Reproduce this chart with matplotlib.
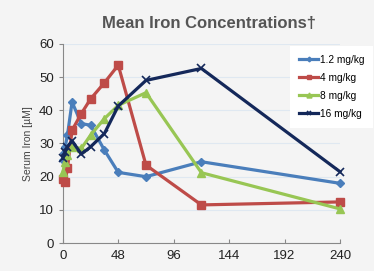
import numpy as np
import matplotlib.pyplot as plt

plt.rcParams['font.family'] = ['Liberation Sans', 'DejaVu Sans']

# hours after dose
t_low = [0, 1, 2, 4, 8, 16, 24, 36, 48, 72, 120, 240]
iron_1_2 = [25, 27, 29, 32.5, 42.5, 36, 35.5, 28, 21.3, 20, 24.5, 18]

t_red = [0, 2, 4, 8, 16, 24, 36, 48, 72, 120, 240]
iron_4 = [19.3, 18.5, 22.5, 34, 39, 43.4, 48.3, 53.6, 23.5, 11.5, 12.4]

t_green = [0, 2, 4, 8, 16, 24, 36, 48, 72, 120, 240]
iron_8 = [21.3, 24.5, 26.5, 29, 28.5, 32.5, 37.5, 41.5, 45.3, 21.2, 10.3]

t_navy = [0, 2, 4, 8, 16, 24, 36, 48, 72, 120, 240]
iron_16 = [25.5, 27.5, 29, 30.8, 26.8, 29, 33, 41.3, 49, 52.6, 21.5]

xticks = [0, 48, 96, 144, 192, 240]
yticks = [0, 10, 20, 30, 40, 50, 60]

fig = plt.figure(figsize=(3.74, 2.71), dpi=100, facecolor='#f4f4f4')
ax = fig.add_axes([0.168, 0.103, 0.741, 0.735])
ax.set_facecolor('none')

ax.plot(t_low, iron_1_2, color='#4a7ebb', lw=2.3, marker='D', ms=4, label='1.2 mg/kg', clip_on=False, zorder=3)
ax.plot(t_red, iron_4, color='#be4b48', lw=2.3, marker='s', ms=6, label='4 mg/kg', clip_on=False, zorder=3)
ax.plot(t_green, iron_8, color='#98c654', lw=2.3, marker='^', ms=6, label='8 mg/kg', clip_on=False, zorder=3)
ax.plot(t_navy, iron_16, color='#14285a', lw=2.3, marker='x', ms=6, mew=1.2, label='16 mg/kg', clip_on=False, zorder=4)

ax.set_xlim(0, 240)
ax.set_ylim(0, 60)
ax.set_xticks(xticks)
ax.set_yticks(yticks)
ax.tick_params(labelsize=9.5, colors='#222222', length=3, color='#888888')
ax.tick_params(axis='x', direction='in', pad=5)
ax.grid(axis='y', color='#dfe8f1', lw=0.8)
ax.set_axisbelow(True)
for s in ['top', 'right']:
    ax.spines[s].set_visible(False)
for s in ['left', 'bottom']:
    ax.spines[s].set_color('#888888')

ax.set_ylabel('Serum Iron [µM]', fontsize=7.5, color='#444444', labelpad=4)
fig.text(0.56, 0.915, 'Mean Iron Concentrations†', ha='center', va='center',
         fontsize=12, fontweight='bold', color='#555555')

leg = fig.legend(*ax.get_legend_handles_labels(), loc='upper left',
                 bbox_to_anchor=(0.775, 0.832), fontsize=7.3,
                 frameon=True, fancybox=False, edgecolor='none', framealpha=1,
                 handlelength=1.9, handletextpad=0.15, labelspacing=0.8,
                 markerscale=0.6, borderpad=0.9, borderaxespad=0)

plt.savefig('out.png', dpi=100, facecolor=fig.get_facecolor())
